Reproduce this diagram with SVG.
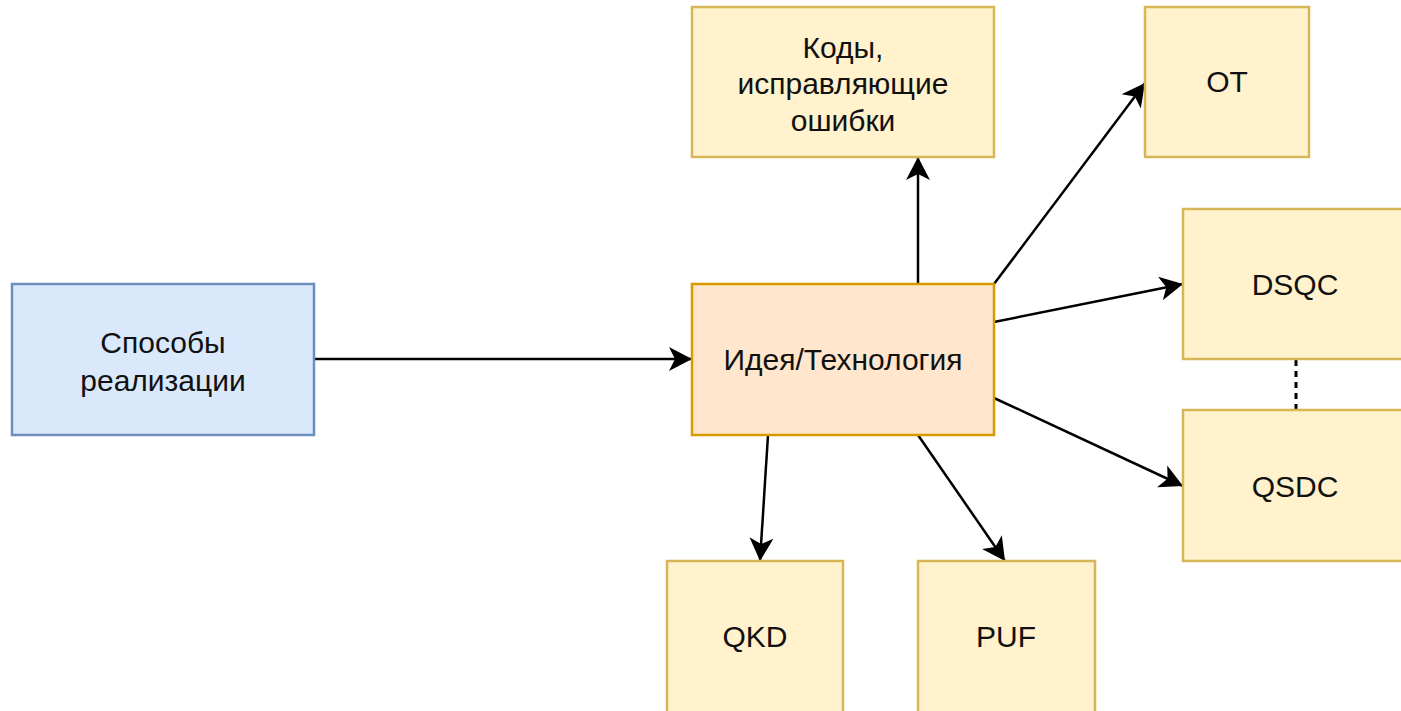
<svg xmlns="http://www.w3.org/2000/svg" width="1401" height="711" viewBox="0 0 1401 711">
  <style>
    .box { stroke-width: 2.5; }
    .blue { fill: #dae8fc; stroke: #6c8ebf; }
    .orange { fill: #ffe6cc; stroke: #d79b00; }
    .yellow { fill: #fff2cc; stroke: #d6b656; }
    .lbl { font-family: "Liberation Sans", Arial, sans-serif; font-size: 30px; fill: #111; text-anchor: middle; dominant-baseline: central; }
    .edge { stroke: #000; stroke-width: 2.5; fill: none; }
    .dash { stroke-width: 3; stroke-dasharray: 6 5; }
  </style>
  <defs>
    <marker id="arrow" markerUnits="userSpaceOnUse" markerWidth="26" markerHeight="26" viewBox="0 0 26 26" refX="23" refY="13" orient="auto">
      <path d="M0,1 L23,13 L0,25 L6,13 Z" fill="#000"/>
    </marker>
  </defs>
  <rect width="1401" height="711" fill="#fff"/>

  <g id="connectors">
    <line class="edge" x1="314" y1="359" x2="692" y2="359" marker-end="url(#arrow)"/>
    <line class="edge" x1="918" y1="284" x2="918" y2="157" marker-end="url(#arrow)"/>
    <line class="edge" x1="994" y1="284" x2="1145" y2="83" marker-end="url(#arrow)"/>
    <line class="edge" x1="994" y1="322" x2="1183" y2="284" marker-end="url(#arrow)"/>
    <line class="edge" x1="994" y1="398" x2="1183" y2="486" marker-end="url(#arrow)"/>
    <line class="edge" x1="768" y1="435" x2="760" y2="561" marker-end="url(#arrow)"/>
    <line class="edge" x1="918" y1="435" x2="1005" y2="561" marker-end="url(#arrow)"/>
    <line class="edge dash" x1="1296" y1="360" x2="1296" y2="410"/>
  </g>

  <g id="node-methods">
    <rect class="box blue" x="12" y="284" width="302" height="151"/>
    <text class="lbl" x="163" y="342">Способы</text>
    <text class="lbl" x="163" y="380">реализации</text>
  </g>
  <g id="node-idea">
    <rect class="box orange" x="692" y="284" width="302" height="151"/>
    <text class="lbl" x="843" y="359">Идея/Технология</text>
  </g>
  <g id="node-codes">
    <rect class="box yellow" x="692" y="7" width="302" height="150"/>
    <text class="lbl" x="843" y="47">Коды,</text>
    <text class="lbl" x="843" y="83">исправляющие</text>
    <text class="lbl" x="843" y="120">ошибки</text>
  </g>
  <g id="node-ot">
    <rect class="box yellow" x="1145" y="7" width="164" height="150"/>
    <text class="lbl" x="1227" y="81">OT</text>
  </g>
  <g id="node-dsqc">
    <rect class="box yellow" x="1183" y="209" width="230" height="150"/>
    <text class="lbl" x="1295" y="284">DSQC</text>
  </g>
  <g id="node-qsdc">
    <rect class="box yellow" x="1183" y="410" width="230" height="151"/>
    <text class="lbl" x="1295" y="486">QSDC</text>
  </g>
  <g id="node-qkd">
    <rect class="box yellow" x="667" y="561" width="176" height="160"/>
    <text class="lbl" x="755" y="636">QKD</text>
  </g>
  <g id="node-puf">
    <rect class="box yellow" x="918" y="561" width="177" height="160"/>
    <text class="lbl" x="1006" y="636">PUF</text>
  </g>
</svg>
